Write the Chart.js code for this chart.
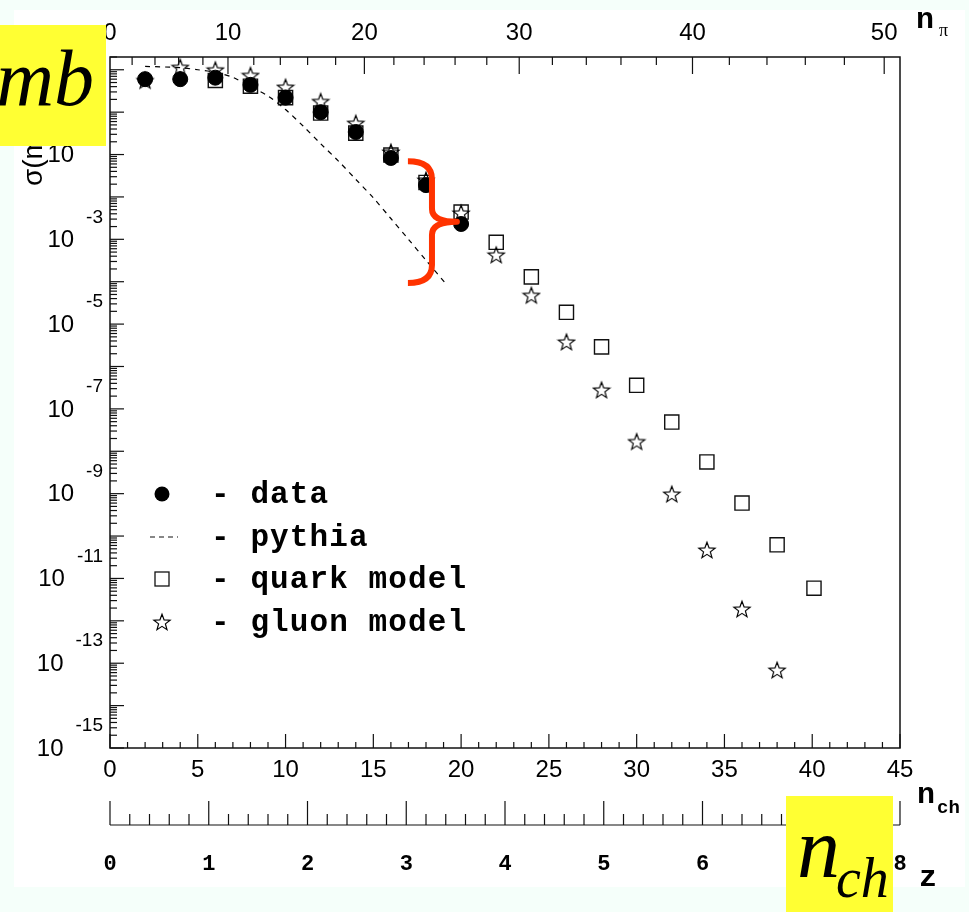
<!DOCTYPE html>
<html>
<head>
<meta charset="utf-8">
<script src="https://cdn.jsdelivr.net/npm/chart.js@4.4.0/dist/chart.umd.min.js"></script>
<style>
  html, body { margin: 0; padding: 0; background: #f5fffa; }
  #wrap { position: relative; width: 969px; height: 912px; }
</style>
</head>
<body>
<div id="wrap"><canvas id="grafica" width="969" height="912"></canvas></div>
<script>
// datos (n_ch, sigma en mb)
const nData = [2, 4, 6, 8, 10, 12, 14, 16, 18, 20];
const sigmaData = [6.0, 6.0, 6.5, 4.4, 2.2, 1.0, 0.34, 0.083, 0.019, 2.3e-3];

const nQuark = [6, 8, 10, 12, 14, 16, 18, 20, 22, 24, 26, 28, 30, 32, 34, 36, 38, 40.1];
const sigmaQuark = [5.6, 4.1, 2.2, 0.95, 0.32, 0.097, 0.022, 4.4e-3, 8.5e-4, 1.3e-4, 1.9e-5, 2.9e-6,
                    3.6e-7, 4.9e-8, 5.6e-9, 6.0e-10, 6.2e-11, 5.9e-12];

const nGluon = [2, 4, 6, 8, 10, 12, 14, 16, 18, 20, 22, 24, 26, 28, 30, 32, 34, 36, 38];
const sigmaGluon = [5.6, 11.5, 10, 7.4, 3.9, 1.8, 0.55, 0.115, 0.025, 4.2e-3, 4.3e-4, 4.8e-5, 3.8e-6,
                    2.8e-7, 1.7e-8, 9.8e-10, 4.7e-11, 1.9e-12, 6.9e-14];

const nPythia = [2, 4, 5, 6, 7, 8, 9, 10, 11, 12, 13, 14, 15, 16, 17, 18, 19.2];
const sigmaPythia = [12, 11.2, 10, 8.7, 6.6, 4.0, 2.4, 1.15, 0.47, 0.18, 0.071, 0.026, 9.5e-3,
                     3.1e-3, 1e-3, 3.2e-4, 8.3e-5];

// ejes
const nchLabels = [0, 5, 10, 15, 20, 25, 30, 35, 40, 45];
const piLabels = [0, 10, 20, 30, 40, 50];
const zLabels = [0, 1, 2, 3, 4, 5, 6, 7, 8];
const yExponents = [-15, -13, -11, -9, -7, -5, -3, -1, 1];

// llave roja: extremos en unidades de datos
const braceX = [16.97, 18.34, 19.76];       // extremo, lomo, punta
const braceY = [0.069, 2.6e-3, 9.3e-5];     // arriba, medio, abajo

const legendNames = ['data', 'pythia', 'quark model', 'gluon model'];

// n_pi -> n_ch (escala superior, no lineal)
function piToNch(p) { return 0.6195 * p + 0.00525 * p * p; }

const SANS = '"Liberation Sans", Arial, Helvetica, sans-serif';
const MONO = '"Liberation Mono", "Courier New", monospace';
const SERIF = '"Liberation Serif", "Times New Roman", serif';

function toXY(xs, ys) { return xs.map((v, i) => ({ x: v, y: ys[i] })); }

function makeStar(size) {
  const c = document.createElement('canvas');
  c.width = c.height = size;
  const g = c.getContext('2d');
  const cx = size / 2, cy = size / 2 + 0.8, R = size / 2 - 1.5, r = R * 0.42;
  g.beginPath();
  for (let i = 0; i < 10; i++) {
    const a = -Math.PI / 2 + i * Math.PI / 5;
    const rr = i % 2 === 0 ? R : r;
    g.lineTo(cx + rr * Math.cos(a), cy + rr * Math.sin(a));
  }
  g.closePath();
  g.strokeStyle = '#000';
  g.lineWidth = 1.2;
  g.stroke();
  return c;
}
const starImg = makeStar(20);

function line(ctx, x1, y1, x2, y2) {
  ctx.beginPath();
  ctx.moveTo(x1, y1);
  ctx.lineTo(x2, y2);
  ctx.stroke();
}

const framePlugin = {
  id: 'frame',
  beforeDraw(chart) {
    const ctx = chart.ctx;
    ctx.save();
    ctx.fillStyle = '#ffffff';
    ctx.fillRect(14, 10, 951, 877);
    ctx.restore();
  },
  afterDatasetsDraw(chart) {
    const ctx = chart.ctx;
    const { left, right, top, bottom } = chart.chartArea;
    const xs = chart.scales.x, ys = chart.scales.y, zs = chart.scales.z;
    ctx.save();
    ctx.strokeStyle = '#111';
    ctx.fillStyle = '#000';
    ctx.lineWidth = 1.5;
    ctx.strokeRect(left, top, right - left, bottom - top);

    // eje inferior n_ch
    ctx.lineWidth = 1.2;
    for (let n = 0; n <= 45; n++) {
      const px = xs.getPixelForValue(n);
      line(ctx, px, bottom, px, bottom - (n % 5 === 0 ? 14 : 6));
    }
    ctx.font = '24px ' + SANS;
    ctx.textAlign = 'center';
    ctx.textBaseline = 'middle';
    nchLabels.forEach(v => ctx.fillText(String(v), xs.getPixelForValue(v), 770));

    // eje superior n_pi
    for (let p = 2; p <= 50; p += 2) {
      const px = xs.getPixelForValue(piToNch(p));
      line(ctx, px, top, px, top + (p % 10 === 0 ? 17 : 8));
    }
    piLabels.forEach(p => ctx.fillText(String(p), xs.getPixelForValue(piToNch(p)), 33));

    // eje y logaritmico
    for (let k = -15; k <= 1; k++) {
      for (let m = 1; m <= 9; m++) {
        const v = m * Math.pow(10, k);
        if (v > ys.max) break;
        const py = ys.getPixelForValue(v);
        line(ctx, left, py, left + (m === 1 ? 14 : 7), py);
      }
    }
    ctx.textAlign = 'right';
    yExponents.forEach(k => {
      const py = ys.getPixelForValue(Math.pow(10, k));
      ctx.font = '19px ' + SANS;
      const e = String(k);
      const w = ctx.measureText(e).width;
      ctx.fillText(e, 103, py - 22);
      ctx.font = '24px ' + SANS;
      ctx.fillText('10', 103 - w - 12, py + 1);
    });

    // titulo eje y
    ctx.save();
    ctx.translate(42, 186);
    ctx.rotate(-Math.PI / 2);
    ctx.textAlign = 'left';
    ctx.textBaseline = 'alphabetic';
    ctx.font = '28px ' + SANS;
    ctx.fillText('σ(mb)', 0, 0);
    ctx.restore();

    // eje z
    const zy = 825;
    line(ctx, zs.getPixelForValue(0), zy, zs.getPixelForValue(8), zy);
    for (let i = 0; i <= 40; i++) {
      const px = zs.getPixelForValue(i / 5);
      line(ctx, px, zy, px, zy - (i % 5 === 0 ? 24 : 11));
    }
    ctx.font = 'bold 22px ' + MONO;
    ctx.textAlign = 'center';
    zLabels.forEach(v => ctx.fillText(String(v), zs.getPixelForValue(v), 864));

    // etiquetas de ejes
    ctx.textAlign = 'left';
    ctx.textBaseline = 'alphabetic';
    ctx.font = 'bold 30px ' + MONO;
    ctx.fillText('n', 916, 28);
    ctx.font = '18px ' + SERIF;
    ctx.fillText('π', 939, 36);
    ctx.font = 'bold 30px ' + MONO;
    ctx.fillText('n', 917, 803);
    ctx.font = 'bold 19px ' + MONO;
    ctx.fillText('ch', 937, 813);
    ctx.font = 'bold 30px ' + MONO;
    ctx.fillText('z', 919, 886);

    // leyenda
    const rows = [494, 537, 579, 622];
    const mx = 162;
    ctx.fillStyle = '#000';
    ctx.beginPath();
    ctx.arc(mx, rows[0], 7.5, 0, Math.PI * 2);
    ctx.fill();
    ctx.lineWidth = 1.1;
    ctx.setLineDash([5, 4]);
    line(ctx, 150, rows[1], 178, rows[1]);
    ctx.setLineDash([]);
    ctx.lineWidth = 1.3;
    ctx.strokeRect(mx - 7, rows[2] - 7, 14, 14);
    ctx.drawImage(starImg, mx - 10, rows[3] - 10);
    ctx.font = 'bold 31px ' + MONO;
    ctx.letterSpacing = '1.1px';
    ctx.textBaseline = 'middle';
    legendNames.forEach((t, i) => ctx.fillText('- ' + t, 211, rows[i] + 1));
    ctx.letterSpacing = '0px';

    // llave roja
    const x0 = xs.getPixelForValue(braceX[0]);
    const xsP = xs.getPixelForValue(braceX[1]);
    const xt = xs.getPixelForValue(braceX[2]);
    const yT = ys.getPixelForValue(braceY[0]);
    const yM = ys.getPixelForValue(braceY[1]);
    const yB = ys.getPixelForValue(braceY[2]);
    ctx.strokeStyle = '#ff3300';
    ctx.lineWidth = 6;
    ctx.lineCap = 'butt';
    ctx.lineJoin = 'round';
    ctx.beginPath();
    ctx.moveTo(x0, yT);
    ctx.quadraticCurveTo(xsP, yT, xsP, yT + 18);
    ctx.lineTo(xsP, yM - 13);
    ctx.quadraticCurveTo(xsP, yM, xt, yM);
    ctx.quadraticCurveTo(xsP, yM, xsP, yM + 13);
    ctx.lineTo(xsP, yB - 18);
    ctx.quadraticCurveTo(xsP, yB, x0, yB);
    ctx.stroke();
    ctx.restore();
  },
  afterDraw(chart) {
    const ctx = chart.ctx;
    ctx.save();
    ctx.fillStyle = '#ffff33';
    ctx.fillRect(0, 25, 106, 121);
    ctx.fillRect(786, 796, 107, 116);
    ctx.fillStyle = '#000';
    ctx.textBaseline = 'alphabetic';
    ctx.textAlign = 'right';
    ctx.font = 'italic 80px ' + SERIF;
    ctx.fillText('mb', 94, 105);
    ctx.textAlign = 'left';
    ctx.font = 'italic 86px ' + SERIF;
    ctx.fillText('n', 797, 877);
    ctx.font = 'italic 56px ' + SERIF;
    ctx.fillText('ch', 836, 897);
    ctx.restore();
  }
};

const graph = document.getElementById('grafica');
const config = {
  type: 'scatter',
  data: {
    datasets: [
      {
        label: 'data',
        data: toXY(nData, sigmaData),
        pointStyle: 'circle',
        pointRadius: 7.5,
        backgroundColor: '#000',
        borderColor: '#000',
        order: 0
      },
      {
        label: 'gluon model',
        data: toXY(nGluon, sigmaGluon),
        pointStyle: starImg,
        order: 1
      },
      {
        label: 'quark model',
        data: toXY(nQuark, sigmaQuark),
        pointStyle: 'rect',
        pointRadius: 10,
        backgroundColor: 'rgba(0,0,0,0)',
        borderColor: '#111',
        borderWidth: 1.4,
        order: 2
      },
      {
        label: 'pythia',
        data: toXY(nPythia, sigmaPythia),
        showLine: true,
        pointRadius: 0,
        borderColor: '#000',
        borderWidth: 1.2,
        borderDash: [5, 5],
        tension: 0.3,
        order: 3
      }
    ]
  },
  options: {
    responsive: false,
    animation: false,
    devicePixelRatio: 1,
    events: [],
    layout: { padding: { left: 110, top: 57, right: 69, bottom: 164 } },
    plugins: { legend: { display: false }, tooltip: { enabled: false } },
    scales: {
      x: { type: 'linear', min: 0, max: 45, display: false },
      z: { type: 'linear', axis: 'x', min: 0, max: 8, display: false },
      y: { type: 'logarithmic', min: 1e-15, max: 20, display: false }
    }
  },
  plugins: [framePlugin]
};
let grafico = new Chart(graph, config);
</script>
</body>
</html>
